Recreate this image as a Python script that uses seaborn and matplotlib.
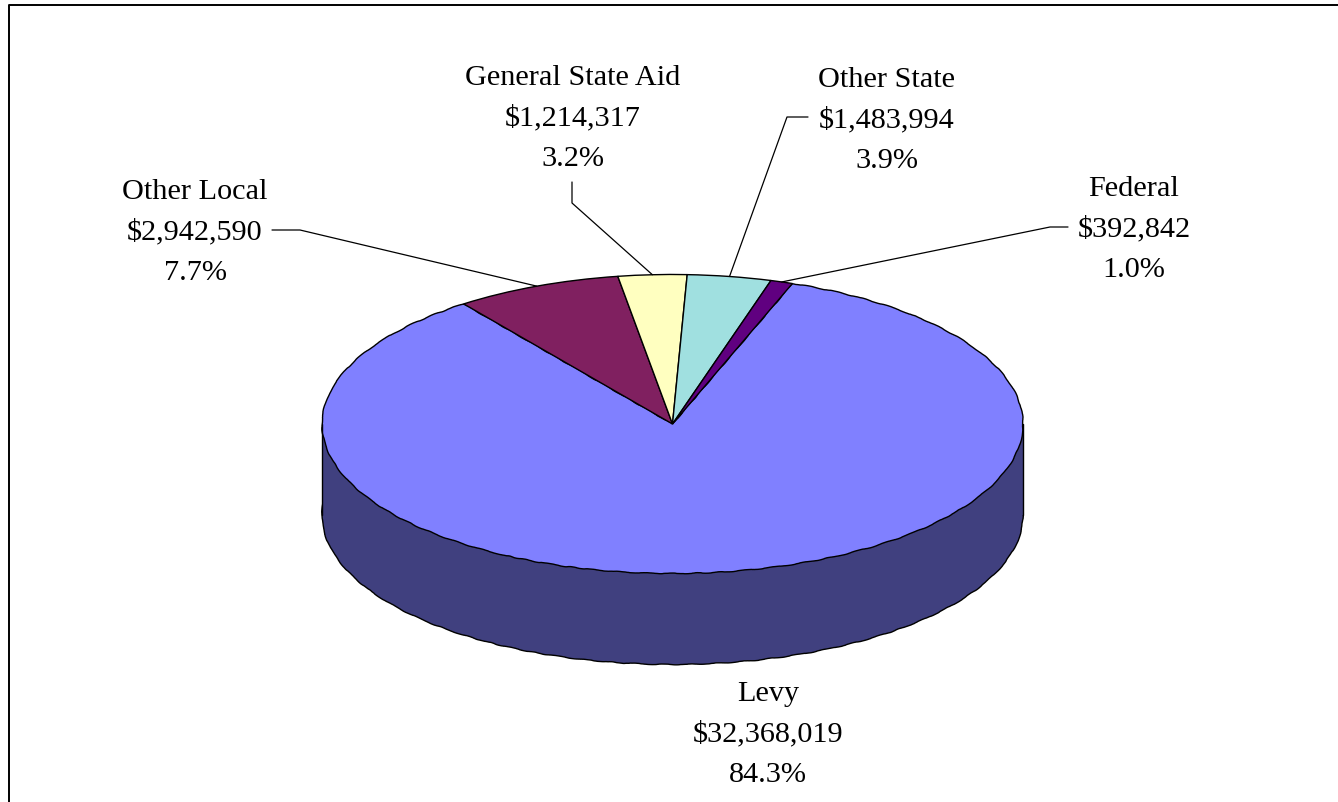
import numpy as np
import matplotlib
matplotlib.use("Agg")
import matplotlib.pyplot as plt
import seaborn as sns

# Revenue by source
sources = ["Levy", "Other Local", "General State Aid", "Other State", "Federal"]
amounts = [32368019, 2942590, 1214317, 1483994, 392842]
colors = ["#8080FF", "#802060", "#FFFFC0", "#A0E0E0", "#600080"]
side_color = "#40407F"

# Pie geometry in pixels
W, H = 1338, 803
CX, CY, RX, RY, DEPTH = 672.5, 425, 350.5, 149.5, 91
START = 70

# Label text centre x and first-line baseline y, with the leader route per slice
label_pos = {
    "Levy": (768, 701),
    "Other Local": (195, 199),
    "General State Aid": (573, 85),
    "Other State": (887, 87),
    "Federal": (1134, 196),
}
line_step = 40.5
leader_route = {
    "Other Local": [(272, 231), (300, 231)],
    "General State Aid": [(572, 183), (572, 204)],
    "Other State": [(808, 118), (787, 118)],
    "Federal": [(1068, 228), (1050, 228)],
}

sns.set_theme(style="white")
plt.rcParams["font.family"] = ["Liberation Serif", "DejaVu Serif"]

fig = plt.figure(figsize=(W / 100, H / 100), dpi=100, facecolor="white")
ax = fig.add_axes([0, 0, 1, 1])

# Extruded rim: a dark disc offset downward joined to the top disc by a band
d = DEPTH / RY
rim, _ = ax.pie([1], center=(0, -d), radius=1, colors=[side_color],
                wedgeprops=dict(edgecolor="black", linewidth=1))
ax.fill_between([-1, 1], [-d, -d], [0, 0], color=side_color, linewidth=0)
ax.plot([-1, -1], [-d, 0], color="black", lw=1)
ax.plot([1, 1], [-d, 0], color="black", lw=1)

wedges, _ = ax.pie(amounts, center=(0, 0), radius=1, colors=colors,
                   startangle=START, counterclock=False,
                   wedgeprops=dict(edgecolor="black", linewidth=1))

# The chart's low-resolution outline has a slight wobble along the curves
for patch in list(rim) + [wedges[0]]:
    patch.set_sketch_params(scale=0.4, length=35, randomness=4)

# Stretch the unit disc into the tilted ellipse
ax.set_aspect("auto")
ax.set_xlim((0 - CX) / RX, (W - CX) / RX)
ax.set_ylim((CY - H) / RY, CY / RY)
ax.axis("off")


def to_data(px, py):
    return (px - CX) / RX, (CY - py) / RY


total = sum(amounts)
for name, amount, wedge in zip(sources, amounts, wedges):
    x, y0 = label_pos[name]
    lines = [name, f"${amount:,}", f"{amount / total:.1%}"]
    for i, line in enumerate(lines):
        tx, ty = to_data(x, y0 + i * line_step)
        ax.text(tx, ty, line, ha="center", va="baseline", fontsize=21.8,
                color="black")
    if name in leader_route:
        mid = np.deg2rad((wedge.theta1 + wedge.theta2) / 2)
        pts = [to_data(*p) for p in leader_route[name]]
        pts.append((np.cos(mid), np.sin(mid)))
        ax.plot(*zip(*pts), color="black", lw=0.9)

# Chart border along the left and top edges only
border = [(8.5, H), (8.5, 5.5), (W, 5.5)]
ax.plot(*zip(*[to_data(*p) for p in border]), color="black", lw=1.4,
        clip_on=False)

fig.savefig("out.png", dpi=100)
